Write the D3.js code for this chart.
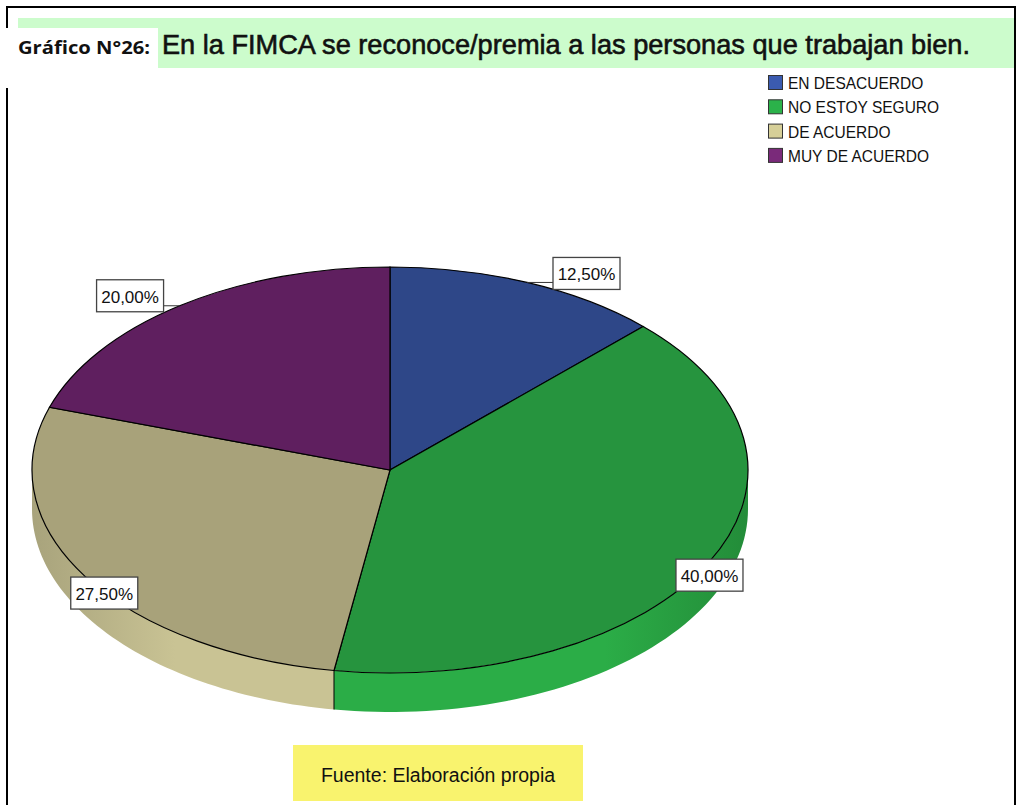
<!DOCTYPE html>
<html>
<head>
<meta charset="utf-8">
<script src="https://cdn.jsdelivr.net/npm/d3@7"></script>
<style>
  body { margin: 0; background: #fff; }
  svg { display: block; }
</style>
</head>
<body>
<div id="chart"></div>
<script>
// datos del gráfico
var categories = ["EN DESACUERDO", "NO ESTOY SEGURO", "DE ACUERDO", "MUY DE ACUERDO"];
var percents = [12.5, 40.0, 27.5, 20.0];
var labels = ["12,50%", "40,00%", "27,50%", "20,00%"];

var topColors = ["#2e4788", "#26943e", "#a8a27a", "#5f1f5f"];
var sideColors = ["#3a56a0", "#2bad47", "#c9c394", "#72287a"];
var legendColors = ["#3b5bb0", "#2bb24a", "#d6cf98", "#7a2a7a"];

var w = 1019, h = 805;
var cx = 390, cy = 470, rx = 358, ry = 203, depth = 39;

var svg = d3.select("#chart")
    .append("svg")
    .attr("width", w)
    .attr("height", h);

// marco
svg.append("path")
    .attr("d", "M7,805 L7,7 L1015,7 L1015,805")
    .attr("fill", "none")
    .attr("stroke", "#000")
    .attr("stroke-width", 2);

// banda del titulo
svg.append("rect")
    .attr("x", 18).attr("y", 18)
    .attr("width", 996).attr("height", 50)
    .attr("fill", "#ccfccc");

svg.append("rect")
    .attr("x", 0).attr("y", 28)
    .attr("width", 158).attr("height", 60)
    .attr("fill", "#fff");

svg.append("text")
    .attr("x", 18).attr("y", 54)
    .attr("font-family", "'Open Sans', sans-serif")
    .attr("font-weight", "bold")
    .attr("font-size", 17)
    .attr("textLength", 132)
    .attr("lengthAdjust", "spacingAndGlyphs")
    .attr("fill", "#111")
    .text("Gráfico N°26:");

svg.append("text")
    .attr("x", 162).attr("y", 54)
    .attr("font-family", "'Liberation Sans', Arial, sans-serif")
    .attr("font-size", 27.5)
    .attr("textLength", 808)
    .attr("lengthAdjust", "spacingAndGlyphs")
    .attr("fill", "#111")
    .attr("stroke", "#111")
    .attr("stroke-width", 0.6)
    .text("En la FIMCA se reconoce/premia a las personas que trabajan bien.");

// pastel
var pie = d3.pie().sort(null).value(function(d) { return d; });
var arcs = pie(percents);

function px(a) { return cx + rx * Math.sin(a); }
function py(a) { return cy - ry * Math.cos(a); }

var defs = svg.append("defs");

// lados visibles (mitad frontal)
arcs.forEach(function(d, i) {
  var a0 = Math.max(d.startAngle, Math.PI / 2);
  var a1 = Math.min(d.endAngle, Math.PI * 3 / 2);
  if (a0 >= a1) return;
  var steps = d3.range(0, 61).map(function(k) { return a0 + (a1 - a0) * k / 60; });
  var pts = steps.map(function(a) { return [px(a), py(a)]; });
  var back = steps.slice().reverse().map(function(a) { return [px(a), py(a) + depth]; });

  var g = defs.append("linearGradient")
      .attr("id", "side" + i)
      .attr("gradientUnits", "userSpaceOnUse")
      .attr("x1", cx - rx).attr("x2", cx + rx)
      .attr("y1", 0).attr("y2", 0);
  var c = d3.color(sideColors[i]);
  g.append("stop").attr("offset", 0).attr("stop-color", c.darker(0.5));
  g.append("stop").attr("offset", 0.2).attr("stop-color", c);
  g.append("stop").attr("offset", 0.8).attr("stop-color", c);
  g.append("stop").attr("offset", 1).attr("stop-color", c.darker(0.6));

  svg.append("path")
      .attr("d", d3.line()(pts.concat(back)) + "Z")
      .attr("fill", "url(#side" + i + ")");

  // borde vertical en el limite de corte
  if (d.startAngle > Math.PI / 2 && d.startAngle < Math.PI * 3 / 2) {
    svg.append("line")
        .attr("x1", px(d.startAngle)).attr("y1", py(d.startAngle))
        .attr("x2", px(d.startAngle)).attr("y2", py(d.startAngle) + depth)
        .attr("stroke", "#000").attr("stroke-width", 1);
  }
});

// cara superior
var arc = d3.arc().innerRadius(0).outerRadius(rx);
svg.append("g")
    .attr("transform", "translate(" + cx + "," + cy + ") scale(1," + (ry / rx) + ")")
    .selectAll("path")
    .data(arcs)
    .enter()
    .append("path")
    .attr("d", arc)
    .attr("fill", function(d, i) { return topColors[i]; })
    .attr("stroke", "#000")
    .attr("stroke-width", 1.2)
    .attr("vector-effect", "non-scaling-stroke");

// etiquetas: posicion de la caja respecto al punto del borde
var labelBox = [[26, -25], [-33, -3], [-14, 1], [-83, -26]];
var boxW = 67, boxH = 32;

arcs.forEach(function(d, i) {
  var mid = (d.startAngle + d.endAngle) / 2;
  var ax = px(mid), ay = py(mid);
  var bx = ax + labelBox[i][0], by = ay + labelBox[i][1];

  var nx = Math.max(bx, Math.min(ax, bx + boxW));
  var ny = Math.max(by, Math.min(ay, by + boxH));
  if (nx != ax || ny != ay) {
    svg.append("line")
        .attr("x1", ax).attr("y1", ay)
        .attr("x2", nx).attr("y2", ny)
        .attr("stroke", "#333").attr("stroke-width", 1);
  }

  svg.append("rect")
      .attr("x", bx).attr("y", by)
      .attr("width", boxW).attr("height", boxH)
      .attr("fill", "#fff")
      .attr("stroke", "#444")
      .attr("stroke-width", 1.3);

  svg.append("text")
      .attr("x", bx + boxW / 2).attr("y", by + 23)
      .attr("text-anchor", "middle")
      .attr("font-family", "'Liberation Sans', Arial, sans-serif")
      .attr("font-size", 17)
      .attr("fill", "#111")
      .text(labels[i]);
});

// leyenda
var legend = svg.append("g").attr("transform", "translate(768,75)");
categories.forEach(function(c, i) {
  var row = legend.append("g").attr("transform", "translate(0," + (i * 24.3) + ")");
  row.append("rect")
      .attr("x", 0.5).attr("y", 0.5)
      .attr("width", 14).attr("height", 14)
      .attr("fill", legendColors[i])
      .attr("stroke", "#333")
      .attr("stroke-width", 1);
  var t = row.append("text")
      .attr("x", 20).attr("y", 14)
      .attr("font-family", "'Liberation Sans', Arial, sans-serif")
      .attr("font-size", 16.5)
      .attr("fill", "#111")
      .text(c);
  var len = t.node().getComputedTextLength();
  t.attr("textLength", len * 0.94).attr("lengthAdjust", "spacingAndGlyphs");
});

// fuente
svg.append("rect")
    .attr("x", 293).attr("y", 745)
    .attr("width", 290).attr("height", 56)
    .attr("fill", "#f9f36e");

svg.append("text")
    .attr("x", 438).attr("y", 782)
    .attr("text-anchor", "middle")
    .attr("font-family", "'Liberation Sans', Arial, sans-serif")
    .attr("font-size", 19.5)
    .attr("fill", "#111")
    .text("Fuente: Elaboración propia");
</script>
</body>
</html>
